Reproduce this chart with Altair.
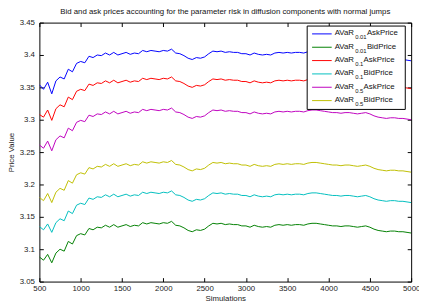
import altair as alt
import pandas as pd

FONT = "Liberation Sans"

sims = list(range(500, 5001, 50))

ask_001 = [3.354, 3.347, 3.358, 3.340, 3.360, 3.366, 3.363, 3.378, 3.374, 3.387,
           3.390, 3.388, 3.398, 3.396, 3.400, 3.399, 3.403, 3.400, 3.404, 3.400,
           3.402, 3.404, 3.401, 3.403, 3.402, 3.407, 3.405, 3.407, 3.406, 3.405,
           3.407, 3.406, 3.409, 3.403, 3.402, 3.399, 3.395, 3.393, 3.396, 3.395,
           3.397, 3.402, 3.406, 3.405, 3.406, 3.404, 3.405, 3.404, 3.404, 3.402,
           3.402, 3.400, 3.403, 3.401, 3.400, 3.401, 3.400, 3.403, 3.404, 3.403,
           3.404, 3.403, 3.404, 3.404, 3.403, 3.405, 3.406, 3.406, 3.405, 3.404,
           3.403, 3.402, 3.402, 3.401, 3.402, 3.402, 3.401, 3.400, 3.401, 3.402,
           3.400, 3.397, 3.395, 3.394, 3.393, 3.394, 3.394, 3.393, 3.393, 3.392,
           3.391]
bid_001 = [3.088, 3.083, 3.092, 3.079, 3.094, 3.100, 3.097, 3.112, 3.108, 3.121,
           3.124, 3.122, 3.132, 3.130, 3.134, 3.133, 3.137, 3.134, 3.138, 3.134,
           3.136, 3.138, 3.135, 3.137, 3.136, 3.141, 3.139, 3.141, 3.140, 3.139,
           3.141, 3.140, 3.143, 3.137, 3.136, 3.133, 3.129, 3.127, 3.130, 3.129,
           3.131, 3.136, 3.140, 3.139, 3.140, 3.138, 3.139, 3.138, 3.138, 3.136,
           3.136, 3.134, 3.137, 3.135, 3.134, 3.135, 3.134, 3.137, 3.138, 3.137,
           3.138, 3.137, 3.138, 3.138, 3.137, 3.139, 3.140, 3.140, 3.139, 3.138,
           3.137, 3.136, 3.136, 3.135, 3.136, 3.136, 3.135, 3.134, 3.135, 3.136,
           3.134, 3.131, 3.129, 3.128, 3.127, 3.128, 3.128, 3.127, 3.127, 3.126,
           3.125]
ask_01 = [3.308, 3.304, 3.315, 3.299, 3.317, 3.323, 3.320, 3.335, 3.331, 3.344,
          3.347, 3.345, 3.355, 3.353, 3.357, 3.356, 3.360, 3.357, 3.361, 3.357,
          3.359, 3.361, 3.358, 3.360, 3.359, 3.364, 3.362, 3.364, 3.363, 3.362,
          3.364, 3.363, 3.366, 3.360, 3.359, 3.356, 3.352, 3.350, 3.353, 3.352,
          3.354, 3.359, 3.363, 3.362, 3.363, 3.361, 3.362, 3.361, 3.361, 3.359,
          3.359, 3.357, 3.360, 3.358, 3.357, 3.358, 3.357, 3.360, 3.361, 3.360,
          3.361, 3.360, 3.361, 3.361, 3.360, 3.362, 3.363, 3.363, 3.362, 3.361,
          3.360, 3.359, 3.359, 3.358, 3.359, 3.359, 3.358, 3.357, 3.358, 3.359,
          3.357, 3.354, 3.352, 3.351, 3.350, 3.351, 3.351, 3.350, 3.350, 3.349,
          3.348]
bid_01 = [3.135, 3.130, 3.139, 3.126, 3.141, 3.147, 3.144, 3.159, 3.155, 3.168,
          3.171, 3.169, 3.179, 3.177, 3.181, 3.180, 3.184, 3.181, 3.185, 3.181,
          3.183, 3.185, 3.182, 3.184, 3.183, 3.188, 3.186, 3.188, 3.187, 3.186,
          3.188, 3.187, 3.190, 3.184, 3.183, 3.180, 3.176, 3.174, 3.177, 3.176,
          3.178, 3.183, 3.187, 3.186, 3.187, 3.185, 3.186, 3.185, 3.185, 3.183,
          3.183, 3.181, 3.184, 3.182, 3.181, 3.182, 3.181, 3.184, 3.185, 3.184,
          3.185, 3.184, 3.185, 3.185, 3.184, 3.186, 3.187, 3.187, 3.186, 3.185,
          3.184, 3.183, 3.183, 3.182, 3.183, 3.183, 3.182, 3.181, 3.182, 3.183,
          3.181, 3.178, 3.176, 3.175, 3.174, 3.175, 3.175, 3.174, 3.174, 3.173,
          3.172]
ask_05 = [3.261, 3.256, 3.267, 3.252, 3.269, 3.275, 3.272, 3.287, 3.283, 3.296,
          3.299, 3.297, 3.307, 3.305, 3.309, 3.308, 3.312, 3.309, 3.313, 3.309,
          3.311, 3.313, 3.310, 3.312, 3.311, 3.316, 3.314, 3.316, 3.315, 3.314,
          3.316, 3.315, 3.318, 3.312, 3.311, 3.308, 3.304, 3.302, 3.305, 3.304,
          3.306, 3.311, 3.315, 3.314, 3.315, 3.313, 3.314, 3.313, 3.313, 3.311,
          3.311, 3.309, 3.312, 3.310, 3.309, 3.310, 3.309, 3.312, 3.313, 3.312,
          3.313, 3.312, 3.313, 3.313, 3.312, 3.314, 3.315, 3.315, 3.314, 3.313,
          3.312, 3.311, 3.311, 3.310, 3.311, 3.311, 3.310, 3.309, 3.310, 3.311,
          3.309, 3.306, 3.304, 3.303, 3.302, 3.303, 3.303, 3.302, 3.302, 3.301,
          3.300]
bid_05 = [3.180, 3.175, 3.186, 3.172, 3.188, 3.194, 3.191, 3.206, 3.202, 3.215,
          3.218, 3.216, 3.226, 3.224, 3.228, 3.227, 3.231, 3.228, 3.232, 3.228,
          3.230, 3.232, 3.229, 3.231, 3.230, 3.235, 3.233, 3.235, 3.234, 3.233,
          3.235, 3.234, 3.237, 3.231, 3.230, 3.227, 3.223, 3.221, 3.224, 3.223,
          3.225, 3.230, 3.234, 3.233, 3.234, 3.232, 3.233, 3.232, 3.232, 3.230,
          3.230, 3.228, 3.231, 3.229, 3.228, 3.229, 3.228, 3.231, 3.232, 3.231,
          3.232, 3.231, 3.232, 3.232, 3.231, 3.233, 3.234, 3.234, 3.233, 3.232,
          3.231, 3.230, 3.230, 3.229, 3.230, 3.230, 3.229, 3.228, 3.229, 3.230,
          3.228, 3.225, 3.223, 3.222, 3.221, 3.222, 3.222, 3.221, 3.221, 3.220,
          3.219]

series_names = ["ask_001", "bid_001", "ask_01", "bid_01", "ask_05", "bid_05"]
series_vals = [ask_001, bid_001, ask_01, bid_01, ask_05, bid_05]
series_colors = ["#0000ff", "#008000", "#ff0000", "#00bfbf", "#bf00bf", "#bfbf00"]
legend_subs = ["0.01", "0.01", "0.1", "0.1", "0.5", "0.5"]
legend_kinds = ["AskPrice", "BidPrice", "AskPrice", "BidPrice", "AskPrice", "BidPrice"]

x_ticks = [500, 1000, 1500, 2000, 2500, 3000, 3500, 4000, 4500, 5000]
y_ticks = [3.05, 3.1, 3.15, 3.2, 3.25, 3.3, 3.35, 3.4, 3.45]

rows = []
for name, vals in zip(series_names, series_vals):
    for s, v in zip(sims, vals):
        rows.append({"series": name, "sim": s, "value": v})
df = pd.DataFrame(rows)

W, H = 379, 264
xscale = alt.Scale(domain=[500, 5000], nice=False, zero=False)
yscale = alt.Scale(domain=[3.05, 3.45], nice=False, zero=False)

common_axis = dict(offset=-4, tickSize=4, domain=False, grid=False,
                   tickColor="#000", tickWidth=1, labelFlush=False,
                   labelOverlap=False,
                   labelFont=FONT, titleFont=FONT, labelFontSize=8, titleFontSize=8,
                   labelColor="#222", titleColor="#222", titleFontWeight="normal")

lines = alt.Chart(df).mark_line(strokeWidth=1, clip=True).encode(
    x=alt.X("sim:Q", scale=xscale,
            axis=alt.Axis(orient="bottom", values=x_ticks, format="d",
                          title="Simulations", labelPadding=3, titlePadding=2,
                          **common_axis)),
    y=alt.Y("value:Q", scale=yscale,
            axis=alt.Axis(orient="left", values=y_ticks, format=".2~f",
                          title="Price Value", labelPadding=5, titlePadding=4,
                          **common_axis)),
    color=alt.Color("series:N", scale=alt.Scale(domain=series_names, range=series_colors),
                    legend=None),
)

mirror = alt.Chart(df).mark_line(strokeOpacity=0).encode(
    x=alt.X("sim:Q", scale=xscale,
            axis=alt.Axis(orient="top", values=x_ticks, labels=False, title="",
                          **common_axis)),
    y=alt.Y("value:Q", scale=yscale,
            axis=alt.Axis(orient="right", values=y_ticks, labels=False, title="",
                          **common_axis)),
    detail="series:N",
)

one = pd.DataFrame({"a": [0]})

# legend (drawn by hand so the subscripts can be shown)
LX0, LX1, LY0, LY1 = 273, 373, 3.5, 88.5
layers = [lines, mirror]
layers.append(alt.Chart(one).mark_rect(fill="white", stroke="#000", strokeWidth=1).encode(
    x=alt.value(LX0), x2=alt.value(LX1), y=alt.value(LY0), y2=alt.value(LY1)))

cw = {'A': 0.667, 'V': 0.667, 'a': 0.556, 'R': 0.722, '0': 0.556, '.': 0.278,
      '1': 0.556, '5': 0.556}


def tw(s, size):
    return sum(cw.get(ch, 0.556) for ch in s) * size


for i, (c, sub, kind) in enumerate(zip(series_colors, legend_subs, legend_kinds)):
    ry = 11.5 + i * 13.6
    layers.append(alt.Chart(one).mark_rule(color=c, strokeWidth=1).encode(
        x=alt.value(278), x2=alt.value(298), y=alt.value(ry)))
    tx = 301
    layers.append(alt.Chart(one).mark_text(align="left", baseline="middle", fontSize=8,
                                           font=FONT, color="#111").encode(
        x=alt.value(tx), y=alt.value(ry - 0.5), text=alt.value("AVaR")))
    sx = tx + tw("AVaR", 8)
    layers.append(alt.Chart(one).mark_text(align="left", baseline="middle", fontSize=6,
                                           font=FONT, color="#111").encode(
        x=alt.value(sx), y=alt.value(ry + 3.5), text=alt.value(sub)))
    kx = sx + tw(sub, 6) + 0.3
    layers.append(alt.Chart(one).mark_text(align="left", baseline="middle", fontSize=8,
                                           font=FONT, color="#111").encode(
        x=alt.value(kx), y=alt.value(ry - 0.5), text=alt.value(kind)))

chart = alt.layer(*layers).resolve_axis(x="independent", y="independent").properties(
    width=W, height=H,
    background="white",
    autosize=alt.AutoSizeParams(type="none"),
    padding={"left": 32, "top": 12, "right": 8, "bottom": 22},
    title=alt.TitleParams(
        "Bid and ask prices accounting for the parameter risk in diffusion components with normal jumps",
        fontSize=8, font=FONT, fontWeight="normal", color="#111", offset=3, anchor="middle"),
).configure_view(stroke="#000", strokeWidth=1)

chart.save("out.html", embed_options={"renderer": "svg", "actions": False})
